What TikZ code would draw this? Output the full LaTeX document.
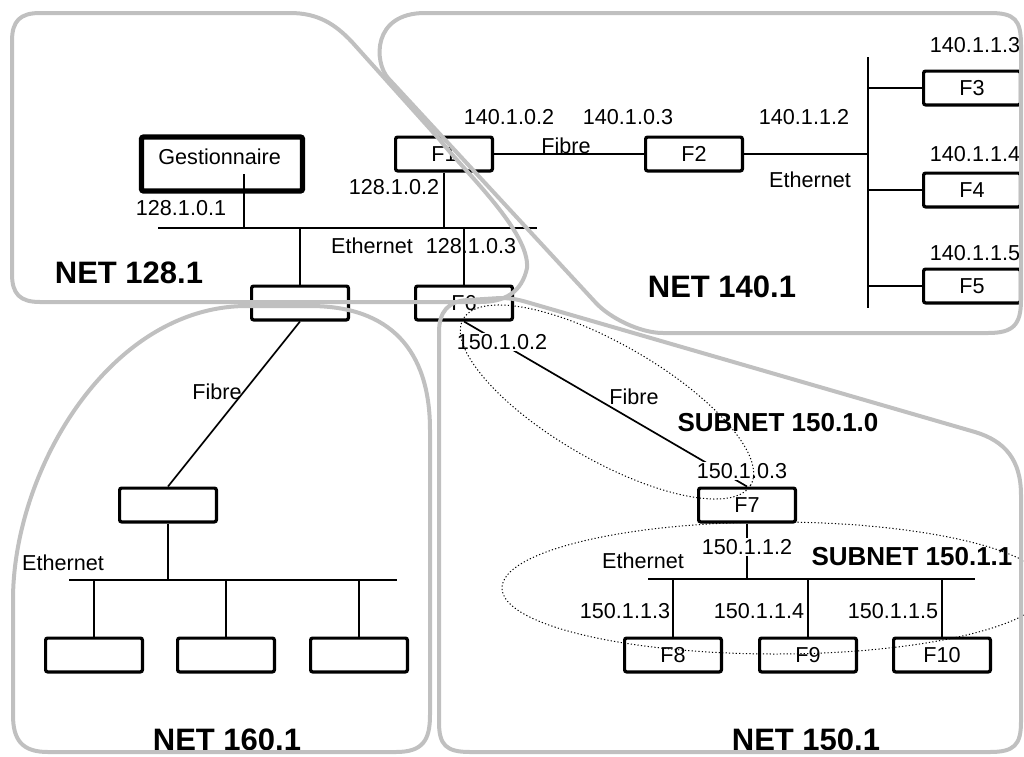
\documentclass[tikz,border=0pt]{standalone}
\usepackage{fontspec}
\setmainfont{Liberation Sans}
\usepackage{tikz}
\definecolor{netgrey}{HTML}{C0C0C0}

\begin{document}
\begin{tikzpicture}[
  x=0.5pt, y=-0.5pt,
  box/.style={draw, line width=1.6pt, rounded corners=1pt, fill=white, minimum width=48.4pt, minimum height=16.9pt, inner sep=0pt, font=\fontsize{10.8}{12}\selectfont},
  host/.style={box, line width=2.6pt, minimum width=80.5pt, minimum height=27pt},
  link/.style={line width=0.85pt},
  lbl/.style={inner sep=0.5pt, font=\fontsize{10.8}{12}\selectfont},
  mask/.style={lbl, fill=white},
  netname/.style={inner sep=0pt, font=\fontsize{15.5}{18}\selectfont\bfseries},
  subname/.style={inner sep=0pt, font=\fontsize{13}{15}\selectfont\bfseries},
  zone/.style={draw=netgrey, line width=2pt},
  subzone/.style={draw, line width=0.5pt, dash pattern=on 0.6pt off 1.1pt}
]
\clip (0,0) rectangle (1024,756);

\node[host] (gest) at (222,164) {};
\node[lbl, anchor=west] (gestlbl) at (157,157) {Gestionnaire};
\node[box] (f1) at (444,154) {F1};
\node[box] (f2) at (694,154) {F2};
\node[box] (f3) at (972,88) {F3};
\node[box] (f4) at (972,190) {F4};
\node[box] (f5) at (972,286) {F5};
\node[box] (r160) at (300,303) {};
\node[box] (f6) at (464,303) {F6};
\node[box] (r161) at (168,505) {};
\foreach \n/\x in {h1/94, h2/226, h3/359} \node[box] (\n) at (\x,655) {};
\node[box] (f7) at (747,505) {F7};
\node[box] (f8) at (673,655) {F8};
\node[box] (f9) at (808,655) {F9};
\node[box] (f10) at (942,655) {F10};

\coordinate (b128w) at (158,228);
\coordinate (b128e) at (537,228);
\coordinate (b140n) at (868,57);
\coordinate (b140s) at (868,308);
\coordinate (b160w) at (69,580);
\coordinate (b160e) at (397,580);
\coordinate (b150w) at (648,579);
\coordinate (b150e) at (975,579);
\coordinate (g0) at (244,174);

\draw[link] (b128w) -- (b128e);
\draw[link] (g0) -- (g0 |- b128w);
\draw[link] (f1.south) -- (f1.south |- b128w);
\draw[link] (r160.north) -- (r160.north |- b128w);
\draw[link] (f6.north) -- (f6.north |- b128w);
\draw[link] (f1.east) -- (f2.west);
\draw[link] (b140n) -- (b140s);
\draw[link] (f2.east) -- (f2.east -| b140n);
\foreach \n in {f3,f4,f5} \draw[link] (\n.west) -- (\n.west -| b140n);
\draw[link] (r160.south) -- (r161.north);
\draw[link] (b160w) -- (b160e);
\draw[link] (r161.south) -- (r161.south |- b160w);
\foreach \n in {h1,h2,h3} \draw[link] (\n.north) -- (\n.north |- b160w);
\draw[link] (f6.south) -- (f7.north);
\draw[link] (f7.south) -- (f7.south |- b150w);
\draw[link] (b150w) -- (b150e);
\foreach \n in {f8,f9,f10} \draw[link] (\n.north) -- (\n.north |- b150w);

\node[lbl] at (181,208) {128.1.0.1};
\node[lbl] at (394,187) {128.1.0.2};
\node[lbl] at (372,246) {Ethernet};
\node[lbl] at (471,246) {128.1.0.3};
\node[netname] at (129,273) {NET 128.1};
\node[lbl] at (509,117) {140.1.0.2};
\node[lbl] at (628,117) {140.1.0.3};
\node[lbl] at (566,146) {Fibre};
\node[lbl] at (804,117) {140.1.1.2};
\node[lbl] at (810,180) {Ethernet};
\node[lbl] at (975,45) {140.1.1.3};
\node[lbl] at (975,154) {140.1.1.4};
\node[lbl] at (975,253) {140.1.1.5};
\node[netname] at (722,287) {NET 140.1};
\node[lbl] at (217,392) {Fibre};
\node[lbl] at (63,563) {Ethernet};
\node[netname] at (227,740) {NET 160.1};
\node[mask] at (502,342) {150.1.0.2};
\node[lbl] at (634,397) {Fibre};
\node[subname] at (778,423) {SUBNET 150.1.0};
\node[mask] at (742,471) {150.1.0.3};
\node[mask] at (747,547) {150.1.1.2};
\node[lbl] at (643,561) {Ethernet};
\node[subname] at (912,557) {SUBNET 150.1.1};
\node[lbl] at (625,611) {150.1.1.3};
\node[lbl] at (759,611) {150.1.1.4};
\node[lbl] at (893,611) {150.1.1.5};
\node[netname] at (806,740) {NET 150.1};

\draw[subzone, rotate around={-30:(607,402)}] (607,402) ellipse [x radius=166, y radius=58];
\draw[subzone] (775,588) ellipse [x radius=273, y radius=66];

\draw[zone] (150,13) -- (290,13) .. controls (318,13) and (335,24) .. (352,42) -- (440,140)
  .. controls (465,172) and (530,232) .. (527,268) .. controls (522,292) and (505,302) .. (480,302)
  -- (40,302) .. controls (20,302) and (12,294) .. (12,274) -- (12,41) .. controls (12,21) and (20,13) .. (40,13) -- cycle;
\draw[zone] (700,13) -- (990,13) .. controls (1015,13) and (1021,20) .. (1021,45) -- (1021,300)
  .. controls (1021,325) and (1013,333) .. (988,333) -- (663,333) .. controls (640,333) and (610,318) .. (596,303)
  -- (388,78) .. controls (374,62) and (372,13) .. (425,13) -- cycle;
\draw[zone] (247,306) -- (310,306) .. controls (390,306) and (430,350) .. (430,430) -- (430,715)
  .. controls (430,740) and (423,752) .. (396,752) -- (48,752) .. controls (22,752) and (13,740) .. (13,715)
  -- (13,600) .. controls (13,470) and (110,306) .. (247,306) -- cycle;
\draw[zone] (439,500) -- (439,332) .. controls (439,312) and (448,301) .. (468,300) -- (500,298)
  .. controls (512,298) and (520,300) .. (530,303) -- (975,432) .. controls (1005,441) and (1021,460) .. (1021,495)
  -- (1021,722) .. controls (1021,745) and (1014,752) .. (990,752) -- (470,752) .. controls (446,752) and (439,745) .. (439,722) -- cycle;
\end{tikzpicture}
\end{document}
